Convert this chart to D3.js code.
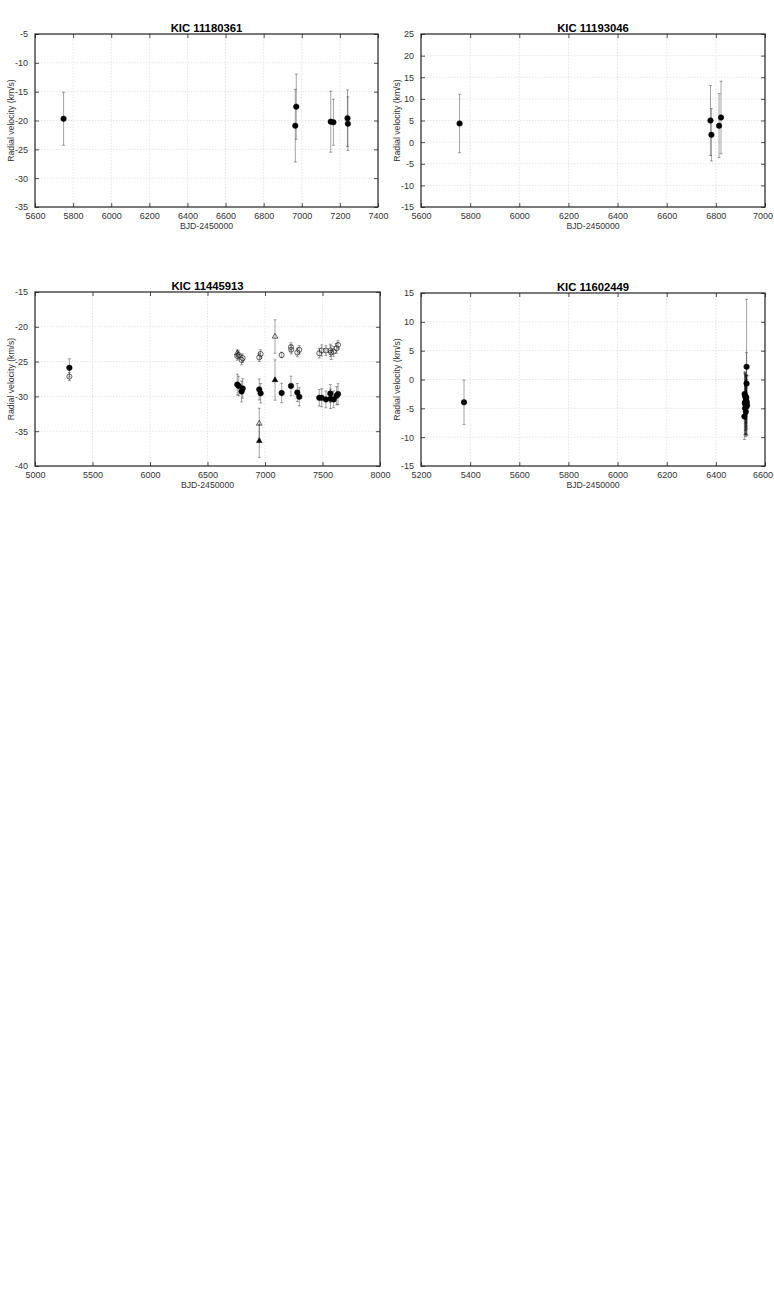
<!DOCTYPE html>
<html>
<head>
<meta charset="utf-8">
<script src="https://cdn.jsdelivr.net/npm/d3@7"></script>
<style>
html,body{margin:0;padding:0;background:#fff;}
svg{display:block;}
text{font-family:"Liberation Sans",Arial,sans-serif;}
</style>
</head>
<body>
<svg id="chart" width="774" height="1292"></svg>
<script>
// ---------- DATA ----------
// Panel 1: KIC 11180361
const p1Title = "KIC 11180361";
const p1XTicks = [5600,5800,6000,6200,6400,6600,6800,7000,7200,7400];
const p1YTicks = [-35,-30,-25,-20,-15,-10,-5];
const p1Bjd = [5750, 6971, 6966, 7152, 7166, 7240, 7242];
const p1Rv  = [-19.7, -17.6, -20.9, -20.2, -20.3, -19.6, -20.55];
const p1Err = [4.6, 5.65, 6.3, 5.3, 4.0, 4.9, 4.65];

// Panel 2: KIC 11193046
const p2Title = "KIC 11193046";
const p2XTicks = [5600,5800,6000,6200,6400,6600,6800,7000];
const p2YTicks = [-15,-10,-5,0,5,10,15,20,25];
const p2Bjd = [5757, 6778, 6782, 6813, 6821];
const p2Rv  = [4.3, 5.0, 1.7, 3.8, 5.7];
const p2Err = [6.75, 8.1, 6.05, 7.4, 8.4];

// Panel 3: KIC 11445913 (filled circles, open circles, open & filled triangles)
const p3Title = "KIC 11445913";
const p3XTicks = [5000,5500,6000,6500,7000,7500,8000];
const p3YTicks = [-40,-35,-30,-25,-20,-15];
const p3aBjd = [5299, 6759, 6771, 6797, 6806, 6950, 6962, 7145, 7226, 7281, 7298, 7472, 7493, 7530, 7568, 7570, 7597, 7623, 7635];
const p3aRv  = [-25.9, -28.3, -28.5, -29.3, -28.85, -29.0, -29.55, -29.5, -28.5, -29.45, -30.05, -30.2, -30.2, -30.43, -29.6, -30.35, -30.43, -29.9, -29.67];
const p3aErr = [1.3, 1.5, 1.4, 1.5, 1.4, 1.5, 1.4, 1.4, 1.4, 1.3, 1.3, 1.2, 1.3, 1.2, 1.3, 1.4, 1.2, 1.3, 1.5];
const p3bBjd = [5299, 6759, 6771, 6797, 6806, 6950, 6962, 7145, 7226, 7228, 7281, 7298, 7472, 7493, 7530, 7568, 7575, 7597, 7623, 7635];
const p3bRv  = [-27.15, -24.2, -24.05, -24.75, -24.5, -24.4, -23.9, -24.05, -22.9, -23.3, -23.7, -23.3, -23.8, -23.4, -23.4, -23.4, -23.7, -23.55, -23.1, -22.6];
const p3bErr = [0.6, 0.6, 0.6, 0.7, 0.6, 0.6, 0.6, 0.4, 0.6, 0.6, 0.6, 0.6, 0.7, 0.8, 0.7, 0.9, 1.0, 0.7, 0.7, 0.6];
const p3cBjd = [6759, 6950, 7087];
const p3cRv  = [-23.8, -33.9, -21.4];
const p3cErr = [0.5, 2.2, 2.4];
const p3dBjd = [6950, 7087];
const p3dRv  = [-36.4, -27.65];
const p3dErr = [2.4, 2.9];

// Panel 4: KIC 11602449
const p4Title = "KIC 11602449";
const p4XTicks = [5200,5400,5600,5800,6000,6200,6400,6600];
const p4YTicks = [-15,-10,-5,0,5,10,15];
const p4Bjd = [5375, 6525, 6525, 6517, 6519, 6522, 6520, 6524, 6518, 6526, 6521, 6523, 6519, 6516, 6527, 6522, 6524];
const p4Rv  = [-3.95, 2.2, -0.7, -2.5, -2.9, -3.3, -3.8, -3.7, -4.1, -4.0, -4.4, -4.8, -5.0, -6.4, -4.5, -5.6, -3.1];
const p4Err = [3.85, 11.7, 5.4, 3.5, 4.0, 4.2, 5.0, 4.5, 5.5, 4.6, 5.0, 4.8, 4.5, 4.0, 5.2, 4.3, 3.8];

const xLabel = "BJD-2450000";
const yLabel = "Radial velocity (km/s)";

// ---------- DRAW ----------
const svg = d3.select("#chart");
const fmt = v => String(v);

function zip(b, r, e){ return b.map((d,i)=>({x:d, y:r[i], e:e[i]})); }

function panel(opt){
  const {left, right, top, bottom, xTicks, yTicks, title, series} = opt;
  const x = d3.scaleLinear().domain([xTicks[0], xTicks[xTicks.length-1]]).range([left, right]);
  const y = d3.scaleLinear().domain([yTicks[0], yTicks[yTicks.length-1]]).range([bottom, top]);
  const g = svg.append("g");

  // grid
  g.append("g").selectAll("line").data(xTicks.slice(1,-1)).join("line")
    .attr("x1", d=>x(d)).attr("x2", d=>x(d)).attr("y1", top).attr("y2", bottom)
    .attr("stroke", "#dadada").attr("stroke-width", 0.7).attr("stroke-dasharray", "1.5,1.5");
  g.append("g").selectAll("line").data(yTicks.slice(1,-1)).join("line")
    .attr("y1", d=>y(d)).attr("y2", d=>y(d)).attr("x1", left).attr("x2", right)
    .attr("stroke", "#dadada").attr("stroke-width", 0.7).attr("stroke-dasharray", "1.5,1.5");

  // axes with inward ticks on all sides
  const axB = d3.axisBottom(x).tickValues(xTicks).tickSize(-4).tickPadding(6).tickFormat(fmt);
  const axT = d3.axisTop(x).tickValues(xTicks).tickSize(-4).tickFormat("");
  const axL = d3.axisLeft(y).tickValues(yTicks).tickSize(-4).tickPadding(7).tickFormat(fmt);
  const axR = d3.axisRight(y).tickValues(yTicks).tickSize(-4).tickFormat("");
  const style = sel => {
    sel.select(".domain").remove();
    sel.selectAll(".tick line").attr("stroke", "#222").attr("stroke-width", 0.8);
    sel.selectAll(".tick text").attr("fill", "#333").style("font-size", "9px").style("font-family", '"Liberation Sans",Arial,sans-serif');
  };
  const bAxis = g.append("g").attr("transform", `translate(0,${bottom})`).call(axB).call(style);
  // keep the last label inside the page when the panel touches the right edge
  if (right > 700) {
    bAxis.selectAll(".tick text").filter(d => d === xTicks[xTicks.length-1]).attr("dx", "-2.5");
  }
  g.append("g").attr("transform", `translate(0,${top})`).call(axT).call(style);
  g.append("g").attr("transform", `translate(${left},0)`).call(axL).call(style);
  g.append("g").attr("transform", `translate(${right},0)`).call(axR).call(style);

  // frame
  g.append("rect").attr("x", left).attr("y", top).attr("width", right-left).attr("height", bottom-top)
    .attr("fill", "none").attr("stroke", "#222").attr("stroke-width", 1.2);

  // labels
  g.append("text").attr("x", (left+right)/2).attr("y", top-2.5).attr("text-anchor", "middle")
    .style("font-size", "11.3px").style("font-weight", "bold").attr("fill", "#000").text(title);
  g.append("text").attr("x", (left+right)/2).attr("y", bottom+22).attr("text-anchor", "middle")
    .style("font-size", "8.7px").attr("fill", "#333").text(xLabel);
  g.append("text").attr("transform", `translate(${left-21.5},${(top+bottom)/2}) rotate(-90)`)
    .attr("text-anchor", "middle").style("font-size", "8.7px").attr("fill", "#333").text(yLabel);

  // error bars
  const clip = "clip" + Math.round(left) + "_" + Math.round(top);
  svg.append("clipPath").attr("id", clip).append("rect")
    .attr("x", left).attr("y", top).attr("width", right-left).attr("height", bottom-top);
  const pg = g.append("g").attr("clip-path", `url(#${clip})`);
  series.forEach(s => {
    const eb = pg.append("g").attr("stroke", "#000").attr("stroke-opacity", 0.4).attr("stroke-width", 0.9);
    eb.selectAll("line.v").data(s.data).join("line").attr("class","v")
      .attr("x1", d=>x(d.x)).attr("x2", d=>x(d.x)).attr("y1", d=>y(d.y+d.e)).attr("y2", d=>y(d.y-d.e));
    eb.selectAll("line.t").data(s.data).join("line").attr("class","t")
      .attr("x1", d=>x(d.x)-1.5).attr("x2", d=>x(d.x)+1.5).attr("y1", d=>y(d.y+d.e)).attr("y2", d=>y(d.y+d.e));
    eb.selectAll("line.b").data(s.data).join("line").attr("class","b")
      .attr("x1", d=>x(d.x)-1.5).attr("x2", d=>x(d.x)+1.5).attr("y1", d=>y(d.y-d.e)).attr("y2", d=>y(d.y-d.e));
  });
  series.forEach(s => {
    const sym = s.shape === "tri" ? d3.symbolTriangle : d3.symbolCircle;
    const size = s.shape === "tri" ? 14 : (s.filled ? 24 : 20);
    pg.append("g").selectAll("path").data(s.data).join("path")
      .attr("transform", d=>`translate(${x(d.x)},${y(d.y)})`)
      .attr("d", d3.symbol().type(sym).size(size))
      .attr("fill", s.filled ? "#000" : "none")
      .attr("stroke", "#000").attr("stroke-width", s.filled ? 0.5 : 0.6);
  });
}

panel({left:35, right:378, top:34, bottom:207, xTicks:p1XTicks, yTicks:p1YTicks, title:p1Title,
  series:[{data:zip(p1Bjd,p1Rv,p1Err), shape:"circle", filled:true}]});
panel({left:421, right:765, top:34, bottom:207, xTicks:p2XTicks, yTicks:p2YTicks, title:p2Title,
  series:[{data:zip(p2Bjd,p2Rv,p2Err), shape:"circle", filled:true}]});
panel({left:35, right:380, top:292, bottom:466, xTicks:p3XTicks, yTicks:p3YTicks, title:p3Title,
  series:[
    {data:zip(p3bBjd,p3bRv,p3bErr), shape:"circle", filled:false},
    {data:zip(p3cBjd,p3cRv,p3cErr), shape:"tri", filled:false},
    {data:zip(p3aBjd,p3aRv,p3aErr), shape:"circle", filled:true},
    {data:zip(p3dBjd,p3dRv,p3dErr), shape:"tri", filled:true}
  ]});
panel({left:421, right:765, top:293, bottom:466, xTicks:p4XTicks, yTicks:p4YTicks, title:p4Title,
  series:[{data:zip(p4Bjd,p4Rv,p4Err), shape:"circle", filled:true}]});
</script>
</body>
</html>
